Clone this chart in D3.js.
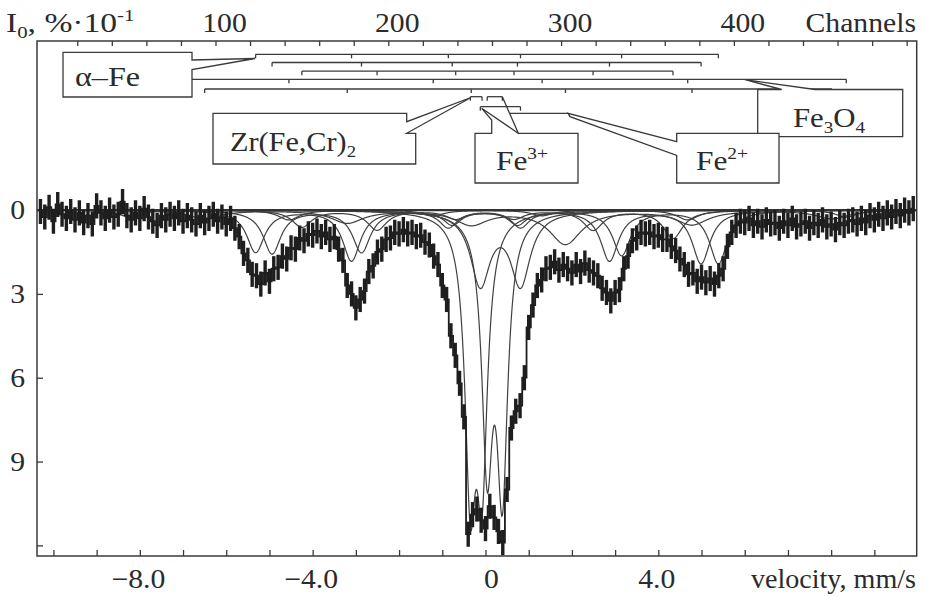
<!DOCTYPE html>
<html>
<head>
<meta charset="utf-8">
<script src="https://cdn.jsdelivr.net/npm/d3@7"></script>
<style>
  body { margin: 0; background: #fff; }
</style>
</head>
<body>
<svg id="chart" width="934" height="597"></svg>
<script>
// measured absorption, % * 10^-1, one value per 0.1 mm/s starting at -10.3 mm/s
const V_START = -10.3
const V_STEP = 0.1
const ERR = 0.45
const absorption = [
  0.05, 0.25, -0.1, 0.4, -0.2, 0.15, 0.3, 0.05, 0.35, 0.1,
  0.45, 0.2, 0.5, -0.15, 0.1, 0.3, 0.0, 0.25, 0.15, -0.3,
  0.2, 0.35, 0.1, 0.3, -0.05, 0.25, 0.4, 0.55, 0.2, 0.35,
  0.15, 0.3, 0.1, 0.4, 0.2, 0.35, 0.5, 0.2, 0.45, 0.3,
  0.15, 0.4, 0.25, 0.5, 0.3, 0.65, 0.95, 1.55, 1.8, 2.3,
  2.35, 2.65, 2.25, 2.55, 2.1, 2.05, 1.65, 1.75, 1.35, 1.4,
  1.0, 1.1, 0.85, 0.9, 0.75, 0.95, 0.8, 1.05, 0.95, 1.4,
  1.8, 2.7, 3.0, 3.5, 3.2, 2.9, 2.2, 2.0, 1.5, 1.4,
  1.05, 1.0, 0.8, 0.85, 0.7, 0.85, 0.8, 0.95, 0.9, 1.15,
  1.25, 1.65, 1.95, 2.7, 3.2, 4.5, 5.2, 6.2, 7.4, 11.6,
  10.9, 10.7, 11.1, 11.4, 10.6, 11.0, 11.5, 11.9, 10.0, 7.8,
  7.2, 7.0, 6.0, 4.2, 3.4, 2.7, 2.5, 2.1, 2.05, 1.85,
  2.15, 1.95, 2.1, 2.25, 1.95, 2.2, 1.9, 2.15, 2.25, 2.35,
  2.8, 2.95, 3.25, 2.95, 2.85, 2.1, 1.65, 1.1, 1.0, 0.8,
  0.85, 0.8, 0.95, 0.9, 1.05, 1.05, 1.3, 1.45, 1.75, 1.95,
  2.3, 2.25, 2.55, 2.4, 2.6, 2.45, 2.65, 2.35, 2.1, 1.3,
  0.8, 0.55, 0.4, 0.45, 0.3, 0.55, 0.4, 0.6, 0.35, 0.5,
  0.45, 0.65, 0.4, 0.55, 0.3, 0.6, 0.5, 0.4, 0.65, 0.45,
  0.55, 0.35, 0.6, 0.5, 0.7, 0.45, 0.55, 0.4, 0.35, 0.5,
  0.3, 0.45, 0.2, 0.35, 0.15, 0.3, 0.1, 0.25, 0.05, 0.2,
  0.0, 0.1, -0.05
]

// fitted subspectra: line positions (mm/s), depths, line width
const alphaFe1Pos = [-5.32, -3.10, -0.86, 0.81, 3.15, 5.39]
const alphaFe1Depth = [1.5, 1.8, 0.6, 0.6, 1.6, 1.9]
const alphaFe2Pos = [-4.94, -2.87, -0.77, 0.74, 2.87, 4.99]
const alphaFe2Depth = [1.55, 1.5, 0.5, 0.5, 1.8, 1.9]
const alphaFe3Pos = [-4.25, -2.51, -0.69, 0.66, 2.49, 4.34]
const alphaFe3Depth = [0.6, 0.7, 0.3, 0.3, 0.7, 1.0]
const magnetiteAPos = [-8.23, -4.55, -1.21, 1.31, 4.68, 8.35]
const magnetiteADepth = [0.25, 0.35, 0.2, 0.2, 0.35, 0.25]
const magnetiteBPos = [-6.50, -3.20, -0.33, 1.85, 4.78, 8.02]
const magnetiteBDepth = [0.3, 0.45, 0.5, 1.2, 0.5, 0.3]
const zrPos = [-0.35, -0.08]
const zrDepth = [9.3, 8.8]
const fe3Pos = [0.04, 0.39]
const fe3Depth = [8.6, 9.6]
const fe2Pos = [-0.12, 0.81]
const fe2Depth = [2.6, 2.6]

const velocityLabels = [-8, -4, 0, 4]
const absorptionTicks = [0, 3, 6, 9, 12]
const absorptionLabels = [0, 3, 6, 9]
const channelLabels = [100, 200, 300, 400]

const FONT = "'Liberation Serif', 'DejaVu Serif', 'Times New Roman', serif"
let svg = d3.select("#chart")
let plot = { left: 37, right: 916.7, top: 41, bottom: 556 }

let x = d3.scaleLinear().domain([-10.38, 9.98]).range([plot.left, plot.right])
let y = d3.scaleLinear().domain([-6.05, 12.38]).range([plot.top, plot.bottom])
let xCh = d3.scaleLinear().domain([-3.3, 505.8]).range([plot.left, plot.right])

const subspectra = [
  { pos: alphaFe1Pos, depth: alphaFe1Depth, w: 0.5, row: 54.3 },
  { pos: alphaFe2Pos, depth: alphaFe2Depth, w: 0.5, row: 62.5 },
  { pos: alphaFe3Pos, depth: alphaFe3Depth, w: 0.55, row: 71.2 },
  { pos: magnetiteAPos, depth: magnetiteADepth, w: 0.6, row: 79.3 },
  { pos: magnetiteBPos, depth: magnetiteBDepth, w: 0.9, row: 89 },
  { pos: zrPos, depth: zrDepth, w: 0.3, row: 96.7 },
  { pos: fe3Pos, depth: fe3Depth, w: 0.3, row: 96.7 },
  { pos: fe2Pos, depth: fe2Depth, w: 0.55, row: 106.7 }
]

// text helper: parts are strings or [string, "sub"|"sup"]
function addText(px, py, parts, anchor, size, stretch) {
  let t = svg.append("text")
    .attr("transform", `translate(${px},${py}) scale(${stretch || 1},1)`)
    .attr("text-anchor", anchor || "start")
    .style("font-family", FONT)
    .style("fill", "#2b2b2b")
    .style("font-size", size + "px")
  let cur = 0
  parts.forEach(function (p) {
    let s = Array.isArray(p) ? p[0] : p
    let kind = Array.isArray(p) ? p[1] : ""
    let shift = kind === "sub" ? size * 0.22 : kind === "sup" ? -size * 0.4 : 0
    let ts = t.append("tspan").text(s).attr("dy", shift - cur)
    if (kind) ts.style("font-size", (size * 0.62) + "px")
    cur = shift
  })
  return t
}

svg.append("defs").append("clipPath").attr("id", "clip")
  .append("rect")
  .attr("x", plot.left).attr("y", plot.top)
  .attr("width", plot.right - plot.left).attr("height", plot.bottom - plot.top)

// axes
let bottomAxis = d3.axisBottom(x).tickValues(d3.range(-10, 10, 1)).tickSize(-6).tickFormat("")
let topAxis = d3.axisTop(xCh).tickValues(d3.range(20, 501, 20)).tickSize(-5).tickFormat("")
let leftAxis = d3.axisLeft(y).tickValues(absorptionTicks).tickSize(-6).tickFormat("")

svg.append("g").attr("transform", `translate(0,${plot.bottom})`).call(bottomAxis)
svg.append("g").attr("transform", `translate(0,${plot.top})`).call(topAxis)
svg.append("g").attr("transform", `translate(${plot.left},0)`).call(leftAxis)
svg.selectAll(".domain").remove()
svg.selectAll(".tick line").attr("stroke", "#3a3a3a").attr("stroke-width", 1.3)

svg.append("rect")
  .attr("x", plot.left).attr("y", plot.top)
  .attr("width", plot.right - plot.left).attr("height", plot.bottom - plot.top)
  .attr("fill", "none").attr("stroke", "#3a3a3a").attr("stroke-width", 1.5)

// fitted components
let grid = d3.range(-10.38, 9.99, 0.01)
let lorentz = function (v, s) {
  let sum = 0
  s.pos.forEach(function (p, i) {
    let t = (v - p) / (s.w / 2)
    sum += s.depth[i] / (1 + t * t)
  })
  return sum
}
let curves = svg.append("g").attr("clip-path", "url(#clip)")
subspectra.forEach(function (s) {
  curves.append("path")
    .datum(grid)
    .attr("d", d3.line().x(v => x(v)).y(v => y(lorentz(v, s))))
    .attr("fill", "none")
    .attr("stroke", "#404040")
    .attr("stroke-width", 1.2)
})

// baseline
svg.append("line")
  .attr("x1", plot.left).attr("x2", plot.right)
  .attr("y1", y(0)).attr("y2", y(0))
  .attr("stroke", "#333").attr("stroke-width", 2.2)

// experimental points with error bars
let pts = absorption.map((a, i) => ({ v: V_START + i * V_STEP, a: a }))
let dataG = svg.append("g").attr("clip-path", "url(#clip)")
dataG.selectAll("line")
  .data(pts)
  .join("line")
  .attr("x1", d => x(d.v)).attr("x2", d => x(d.v))
  .attr("y1", d => y(d.a - ERR)).attr("y2", d => y(d.a + ERR))
  .attr("stroke", "#1e1e1e").attr("stroke-width", 3.4)
dataG.append("path")
  .datum(pts)
  .attr("d", d3.line().x(d => x(d.v)).y(d => y(d.a)).curve(d3.curveStep))
  .attr("fill", "none")
  .attr("stroke", "#1e1e1e")
  .attr("stroke-width", 1.8)

// stick diagrams
let sticks = svg.append("g").attr("stroke", "#3a3a3a").attr("stroke-width", 1.3).attr("fill", "none")
subspectra.forEach(function (s) {
  sticks.append("line")
    .attr("x1", x(d3.min(s.pos))).attr("x2", x(d3.max(s.pos)))
    .attr("y1", s.row).attr("y2", s.row)
  sticks.selectAll(null)
    .data(s.pos)
    .join("line")
    .attr("x1", d => x(d)).attr("x2", d => x(d))
    .attr("y1", s.row).attr("y2", s.row + 4)
})

// callout boxes
let callouts = [
  "M63,52.3 H192 V60 L255,58.5 L192,69.5 V97 H63 Z",
  "M213,113.3 H406.7 V121.7 L471,97.5 L406.7,133.3 H415.7 V164 H213 Z",
  "M757.7,89.5 H781.7 L745,79.7 L815,89.5 H902.7 V136.7 H757.7 Z",
  "M475,133.3 H491.7 V120 L481.7,108.3 L518.3,133.3 H578 V183 H475 Z",
  "M676.7,133.3 H779 V183 H676.7 V155.5 L570,116.7 L568,113.3 L676.7,141.7 Z"
]
svg.append("g").selectAll("path")
  .data(callouts)
  .join("path")
  .attr("d", d => d)
  .attr("fill", "#fff")
  .attr("stroke", "#3a3a3a")
  .attr("stroke-width", 1.3)
svg.append("path")
  .attr("d", "M" + x(fe3Pos[1]) + ",96.7 L518.3,133.3 M510,113.3 H568")
  .attr("fill", "none").attr("stroke", "#3a3a3a").attr("stroke-width", 1.3)

// labels
addText(75, 86, ["α–Fe"], "start", 28, 1.15)
addText(230, 150.5, ["Zr(Fe,Cr)", ["2", "sub"]], "start", 28, 1.08)
addText(496, 170, ["Fe", ["3+", "sup"]], "start", 28, 1.12)
addText(696, 170, ["Fe", ["2+", "sup"]], "start", 28, 1.12)
addText(793, 126.7, ["Fe", ["3", "sub"], "O", ["4", "sub"]], "start", 28, 1.1)

absorptionLabels.forEach(function (v) {
  addText(25, y(v) + 9, [String(v)], "end", 27, 1.1)
})
velocityLabels.forEach(function (v) {
  let s = v === 0 ? "0" : d3.format(".1f")(v)
  addText(x(v) + (v === 0 ? 6 : -1.5), 588, [s], "middle", 27, 1.1)
})
addText(916, 588, ["velocity, mm/s"], "end", 27, 1.04)
channelLabels.forEach(function (c) {
  addText(xCh(c) + 9, 32, [String(c)], "middle", 27, 1.1)
})
addText(916, 32, ["Channels"], "end", 27, 1.1)
addText(6, 32, ["I", ["0", "sub"], ", %·10", ["-1", "sup"]], "start", 28, 1.2)
</script>
</body>
</html>
